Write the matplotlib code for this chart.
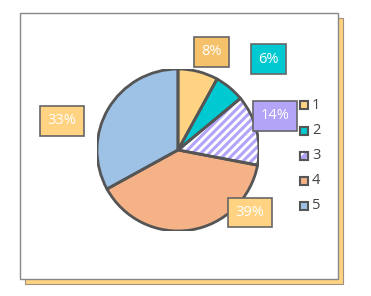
import matplotlib.pyplot as plt
from matplotlib.patches import Rectangle, Wedge

labels = ['1', '2', '3', '4', '5']
values = [8, 6, 14, 39, 33]
slice_colors = ['#FFD382', '#00C9D1', '#B3A4F7', '#F5B286', '#9DC2E5']
box_colors = ['#F5C26B', '#00C9D1', '#B3A4F7', '#FFD382', '#FFD382']
# label box centres, relative to pie centre (in pie radii)
label_pos = [(0.41, 1.21), (1.12, 1.12), (1.20, 0.42), (0.89, -0.77), (-1.43, 0.36)]

plt.rcParams['hatch.linewidth'] = 2.0

W, H = 371, 296
fig = plt.figure(figsize=(W / 100, H / 100), dpi=100)

# shadow + panel
fig.patches.append(Rectangle((25 / W, 1 - 284 / H), 318 / W, 266 / H,
                             transform=fig.transFigure, facecolor='#FFD382',
                             edgecolor='#A09080', linewidth=0.8, zorder=0))
fig.patches.append(Rectangle((20 / W, 1 - 279 / H), 318 / W, 266 / H,
                             transform=fig.transFigure, facecolor='white',
                             edgecolor='#888888', linewidth=1.0, zorder=1))

cx, cy, r = 178, 150, 81
ax = fig.add_axes([(cx - r) / W, 1 - (cy + r) / H, 2 * r / W, 2 * r / H])
ax.set_zorder(5)

wedges, _ = ax.pie(values, colors=slice_colors, startangle=90, counterclock=False,
                   radius=1, wedgeprops=dict(edgecolor='#555555', linewidth=0))
ax.set_xlim(-1, 1)
ax.set_ylim(-1, 1)
ax.patch.set_visible(False)
ax.axis('off')

# white stripes on slice 3, then outlines on top
w3 = wedges[2]
ax.add_patch(Wedge(w3.center, w3.r, w3.theta1, w3.theta2, facecolor='none',
                   edgecolor='white', linewidth=0, hatch='////', zorder=1.5))
for w in wedges:
    ax.add_patch(Wedge(w.center, w.r, w.theta1, w.theta2, facecolor='none',
                       edgecolor='#555555', linewidth=2, zorder=2))

for i, v in enumerate(values):
    x, y = label_pos[i]
    ax.text(x, y, f'{v}%', ha='center', va='center', color='white', fontsize=10.5,
            family='Open Sans', clip_on=False, zorder=3,
            bbox=dict(boxstyle='square,pad=0.5', facecolor=box_colors[i],
                      edgecolor='#666666', linewidth=1.2))

# legend
for i, lab in enumerate(labels):
    y = 1 - (105.5 + 25 * i) / H
    fig.patches.append(Rectangle((300 / W, y - 4 / H), 8 / W, 8 / H,
                                 transform=fig.transFigure, facecolor=slice_colors[i],
                                 edgecolor='#555555', linewidth=1.5, zorder=3))
    if i == 2:
        fig.patches.append(Rectangle((300 / W, y - 4 / H), 8 / W, 8 / H,
                                     transform=fig.transFigure, facecolor='none',
                                     edgecolor='white', linewidth=0,
                                     hatch='///', zorder=3.5))
        fig.patches.append(Rectangle((300 / W, y - 4 / H), 8 / W, 8 / H,
                                     transform=fig.transFigure, facecolor='none',
                                     edgecolor='#555555', linewidth=1.5, zorder=4))
    fig.text(312 / W, y, lab, ha='left', va='center', fontsize=10.5,
             family='Open Sans', color='#444444')

fig.savefig('out.png', dpi=100)
